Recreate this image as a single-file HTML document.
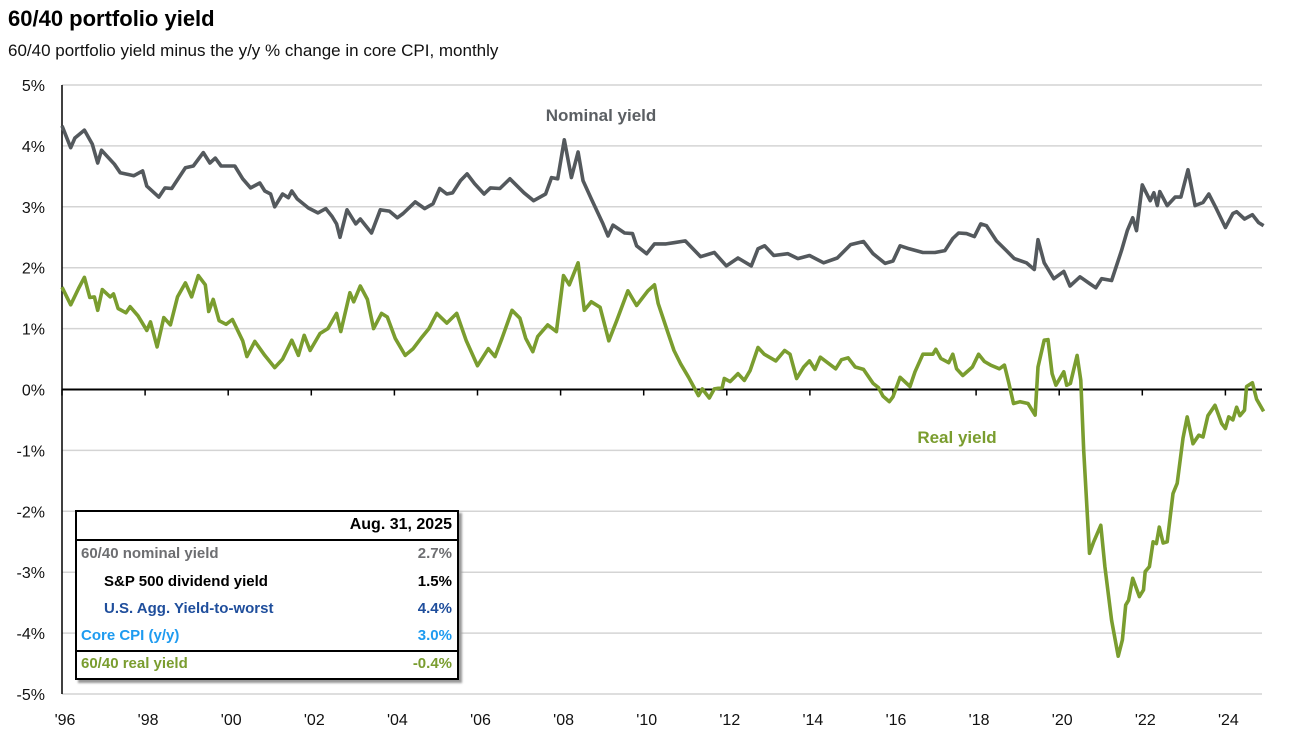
<!DOCTYPE html>
<html><head><meta charset="utf-8"><style>
body{margin:0;background:#fff;font-family:"Liberation Sans",Arial,sans-serif;}
#wrap{position:relative;width:1301px;height:751px;overflow:hidden;}
.title{position:absolute;left:8px;top:6px;font-size:22px;font-weight:bold;color:#000;}
.sub{position:absolute;left:8px;top:41px;font-size:17px;color:#111;}
#legend{position:absolute;left:75px;top:510px;width:380px;height:166px;border:2px solid #000;background:#fff;box-shadow:3px 3px 2px #999;font-weight:bold;font-size:15px;}
.row{position:absolute;left:0;right:0;height:22px;}
.row span{position:absolute;}
.row .v{right:5px;}
</style></head><body>
<div id="wrap">
<div class="title">60/40 portfolio yield</div>
<div class="sub">60/40 portfolio yield minus the y/y % change in core CPI, monthly</div>
<svg id="chart" width="1301" height="751" style="position:absolute;left:0;top:0"></svg>
<div id="legend">
 <div class="row" style="top:4px"><span class="v" style="font-size:16px;color:#000">Aug. 31, 2025</span></div>
 <div style="position:absolute;left:0;right:0;top:27px;border-top:2px solid #000"></div>
 <div class="row" style="top:33px;color:#6d6e71"><span style="left:4px">60/40 nominal yield</span><span class="v">2.7%</span></div>
 <div class="row" style="top:61px;color:#000"><span style="left:27px">S&amp;P 500 dividend yield</span><span class="v">1.5%</span></div>
 <div class="row" style="top:88px;color:#1f4e9c"><span style="left:27px">U.S. Agg. Yield-to-worst</span><span class="v">4.4%</span></div>
 <div class="row" style="top:115px;color:#1e9bf0"><span style="left:4px">Core CPI (y/y)</span><span class="v">3.0%</span></div>
 <div style="position:absolute;left:0;right:0;top:138px;border-top:2px solid #000"></div>
 <div class="row" style="top:143px;color:#7a9d2f"><span style="left:4px">60/40 real yield</span><span class="v">-0.4%</span></div>
</div>
</div>
<script>
const yTicks=[5,4,3,2,1,0,-1,-2,-3,-4,-5];
const xLabels=["'96","'98","'00","'02","'04","'06","'08","'10","'12","'14","'16","'18","'20","'22","'24"];
const xLabelYears=[1996,1998,2000,2002,2004,2006,2008,2010,2012,2014,2016,2018,2020,2022,2024];
const nomT=[1996.0,1996.21,1996.31,1996.54,1996.73,1996.86,1996.95,1997.26,1997.4,1997.73,1997.94,1998.04,1998.33,1998.48,1998.64,1998.97,1999.16,1999.4,1999.56,1999.69,1999.83,2000.16,2000.35,2000.54,2000.76,2000.88,2001.02,2001.12,2001.31,2001.45,2001.53,2001.66,2001.93,2002.16,2002.35,2002.5,2002.61,2002.69,2002.86,2003.07,2003.18,2003.45,2003.66,2003.88,2004.07,2004.21,2004.5,2004.73,2004.93,2005.09,2005.26,2005.4,2005.59,2005.75,2005.93,2006.16,2006.31,2006.54,2006.78,2007.12,2007.35,2007.64,2007.78,2007.93,2008.09,2008.26,2008.42,2008.54,2008.74,2009.02,2009.14,2009.26,2009.54,2009.73,2009.83,2010.07,2010.26,2010.54,2010.73,2011.0,2011.37,2011.7,2011.99,2012.27,2012.59,2012.75,2012.91,2013.13,2013.47,2013.71,2013.99,2014.33,2014.66,2014.98,2015.29,2015.52,2015.81,2016.0,2016.17,2016.39,2016.72,2017.01,2017.25,2017.44,2017.58,2017.77,2017.96,2018.11,2018.25,2018.49,2018.73,2018.92,2019.21,2019.4,2019.49,2019.64,2019.87,2020.11,2020.26,2020.5,2020.73,2020.88,2021.02,2021.26,2021.5,2021.64,2021.77,2021.86,2022.0,2022.19,2022.28,2022.36,2022.42,2022.6,2022.79,2022.93,2023.1,2023.27,2023.46,2023.6,2023.78,2024.0,2024.18,2024.27,2024.46,2024.65,2024.8,2024.92];
const nomV=[4.33,3.97,4.13,4.26,4.03,3.72,3.93,3.70,3.56,3.51,3.59,3.34,3.16,3.31,3.30,3.64,3.67,3.89,3.72,3.80,3.67,3.67,3.46,3.31,3.39,3.26,3.21,3.0,3.21,3.15,3.26,3.13,2.98,2.90,2.97,2.84,2.72,2.50,2.95,2.72,2.80,2.57,2.95,2.93,2.82,2.89,3.08,2.97,3.05,3.30,3.21,3.23,3.43,3.54,3.38,3.21,3.31,3.30,3.46,3.23,3.10,3.21,3.48,3.46,4.10,3.48,3.90,3.43,3.13,2.72,2.52,2.70,2.57,2.56,2.36,2.23,2.39,2.39,2.41,2.44,2.18,2.25,2.03,2.16,2.03,2.31,2.36,2.20,2.23,2.15,2.20,2.08,2.16,2.38,2.43,2.23,2.07,2.11,2.36,2.31,2.25,2.25,2.28,2.48,2.57,2.56,2.51,2.72,2.69,2.44,2.28,2.15,2.08,1.97,2.46,2.08,1.82,1.94,1.70,1.85,1.74,1.67,1.82,1.79,2.28,2.61,2.82,2.61,3.36,3.10,3.23,3.02,3.25,3.02,3.16,3.16,3.61,3.02,3.07,3.21,2.97,2.66,2.89,2.92,2.80,2.87,2.74,2.69];
const realT=[1996.0,1996.21,1996.4,1996.54,1996.67,1996.78,1996.86,1996.97,1997.16,1997.24,1997.35,1997.54,1997.64,1997.83,1998.04,1998.13,1998.29,1998.45,1998.61,1998.78,1998.97,1999.12,1999.28,1999.45,1999.53,1999.64,1999.78,1999.95,2000.1,2000.35,2000.45,2000.64,2000.88,2001.12,2001.31,2001.53,2001.69,2001.83,2001.97,2002.21,2002.4,2002.61,2002.71,2002.93,2003.02,2003.18,2003.35,2003.5,2003.69,2003.83,2004.02,2004.26,2004.45,2004.64,2004.83,2005.02,2005.26,2005.5,2005.73,2006.0,2006.26,2006.42,2006.59,2006.83,2007.02,2007.16,2007.33,2007.45,2007.69,2007.9,2008.07,2008.21,2008.42,2008.57,2008.74,2008.95,2009.16,2009.35,2009.62,2009.83,2010.1,2010.26,2010.35,2010.59,2010.73,2010.89,2011.08,2011.32,2011.41,2011.58,2011.7,2011.89,2011.94,2012.08,2012.27,2012.42,2012.56,2012.75,2012.9,2013.18,2013.39,2013.52,2013.68,2013.85,2013.99,2014.12,2014.25,2014.62,2014.76,2014.92,2015.09,2015.29,2015.52,2015.65,2015.76,2015.91,2016.0,2016.17,2016.41,2016.53,2016.72,2016.96,2017.03,2017.15,2017.34,2017.44,2017.53,2017.68,2017.91,2018.06,2018.2,2018.35,2018.56,2018.68,2018.78,2018.9,2019.06,2019.25,2019.42,2019.49,2019.64,2019.73,2019.83,2019.92,2020.11,2020.18,2020.27,2020.43,2020.52,2020.59,2020.73,2020.83,2021.0,2021.1,2021.26,2021.42,2021.52,2021.6,2021.67,2021.77,2021.93,2022.03,2022.07,2022.17,2022.26,2022.34,2022.41,2022.5,2022.6,2022.74,2022.84,2022.98,2023.08,2023.22,2023.36,2023.46,2023.58,2023.75,2023.91,2024.0,2024.08,2024.18,2024.27,2024.35,2024.46,2024.51,2024.65,2024.75,2024.92];
const realV=[1.68,1.39,1.66,1.84,1.51,1.52,1.30,1.64,1.52,1.57,1.33,1.26,1.36,1.21,0.97,1.11,0.70,1.18,1.06,1.52,1.75,1.52,1.87,1.72,1.28,1.48,1.13,1.07,1.15,0.80,0.54,0.79,0.56,0.36,0.50,0.81,0.56,0.89,0.64,0.92,1.0,1.25,0.95,1.59,1.44,1.70,1.48,1.0,1.25,1.19,0.84,0.56,0.67,0.84,1.0,1.25,1.09,1.25,0.80,0.39,0.67,0.54,0.84,1.30,1.17,0.84,0.62,0.87,1.06,0.95,1.87,1.72,2.08,1.30,1.44,1.35,0.80,1.13,1.62,1.38,1.62,1.72,1.41,0.92,0.64,0.42,0.20,-0.10,0.01,-0.14,0.01,0.03,0.18,0.13,0.26,0.15,0.31,0.69,0.58,0.47,0.64,0.58,0.18,0.37,0.47,0.33,0.53,0.34,0.49,0.52,0.37,0.33,0.10,0.03,-0.11,-0.20,-0.12,0.20,0.05,0.29,0.58,0.58,0.66,0.51,0.44,0.58,0.34,0.23,0.37,0.58,0.46,0.40,0.34,0.40,0.13,-0.23,-0.20,-0.23,-0.42,0.37,0.81,0.82,0.26,0.07,0.29,0.07,0.10,0.56,0.15,-1.0,-2.69,-2.50,-2.23,-2.91,-3.79,-4.38,-4.11,-3.54,-3.46,-3.10,-3.40,-3.29,-2.99,-2.91,-2.50,-2.53,-2.26,-2.52,-2.50,-1.71,-1.54,-0.80,-0.45,-0.89,-0.75,-0.78,-0.43,-0.26,-0.56,-0.64,-0.45,-0.50,-0.29,-0.43,-0.34,0.05,0.11,-0.16,-0.36];

const NS='http://www.w3.org/2000/svg';
const svg=document.getElementById('chart');
const X0=62,X1=1262;
function xs(t){return X0+(t-1996)*41.55;}
function ys(v){return 389.5-v*60.9;}
function mk(tag,attrs){const e=document.createElementNS(NS,tag);for(const k in attrs)e.setAttribute(k,attrs[k]);svg.appendChild(e);return e;}
yTicks.forEach(v=>{
  const g=mk('line',{x1:X0,x2:X1,y1:ys(v),y2:ys(v),stroke:v===0?'#000':'#d4d4d4','stroke-width':v===0?2:1.5});
  
  
  const t=mk('text',{x:45,y:ys(v)+6,'text-anchor':'end','font-size':16,fill:'#111','font-family':'Liberation Sans, sans-serif'});
  t.textContent=v+'%';
  
  
});
const ax=mk('line',{x1:X0,x2:X0,y1:ys(5),y2:ys(-5),stroke:'#000','stroke-width':1.5});


xLabels.forEach((l,i)=>{
  const x=xs(xLabelYears[i]);
  const tk=mk('line',{x1:x,x2:x,y1:ys(0),y2:ys(0)+6,stroke:'#000','stroke-width':1.5});
  
  
  const t=mk('text',{x:x+3,y:725,'text-anchor':'middle','font-size':16,fill:'#111','font-family':'Liberation Sans, sans-serif'});
  t.textContent=l;
  
  
});
function line(T,V,color,name){
  const d=T.map((t,i)=>(i?'L':'M')+xs(t).toFixed(1)+','+ys(V[i]).toFixed(1)).join('');
  const p=mk('path',{d:d,fill:'none',stroke:color,'stroke-width':3.6,'stroke-linejoin':'round'});
  
  
}
line(nomT,nomV,'#54595d','nominal-yield-line');
line(realT,realV,'#7a9d2f','real-yield-line');
const l1=mk('text',{x:601,y:121,'text-anchor':'middle','font-size':17,'font-weight':'bold',fill:'#5b5f63','font-family':'Liberation Sans, sans-serif'});
l1.textContent='Nominal yield';


const l2=mk('text',{x:957,y:443,'text-anchor':'middle','font-size':17,'font-weight':'bold',fill:'#7a9d2f','font-family':'Liberation Sans, sans-serif'});
l2.textContent='Real yield';


</script>
</body></html>
